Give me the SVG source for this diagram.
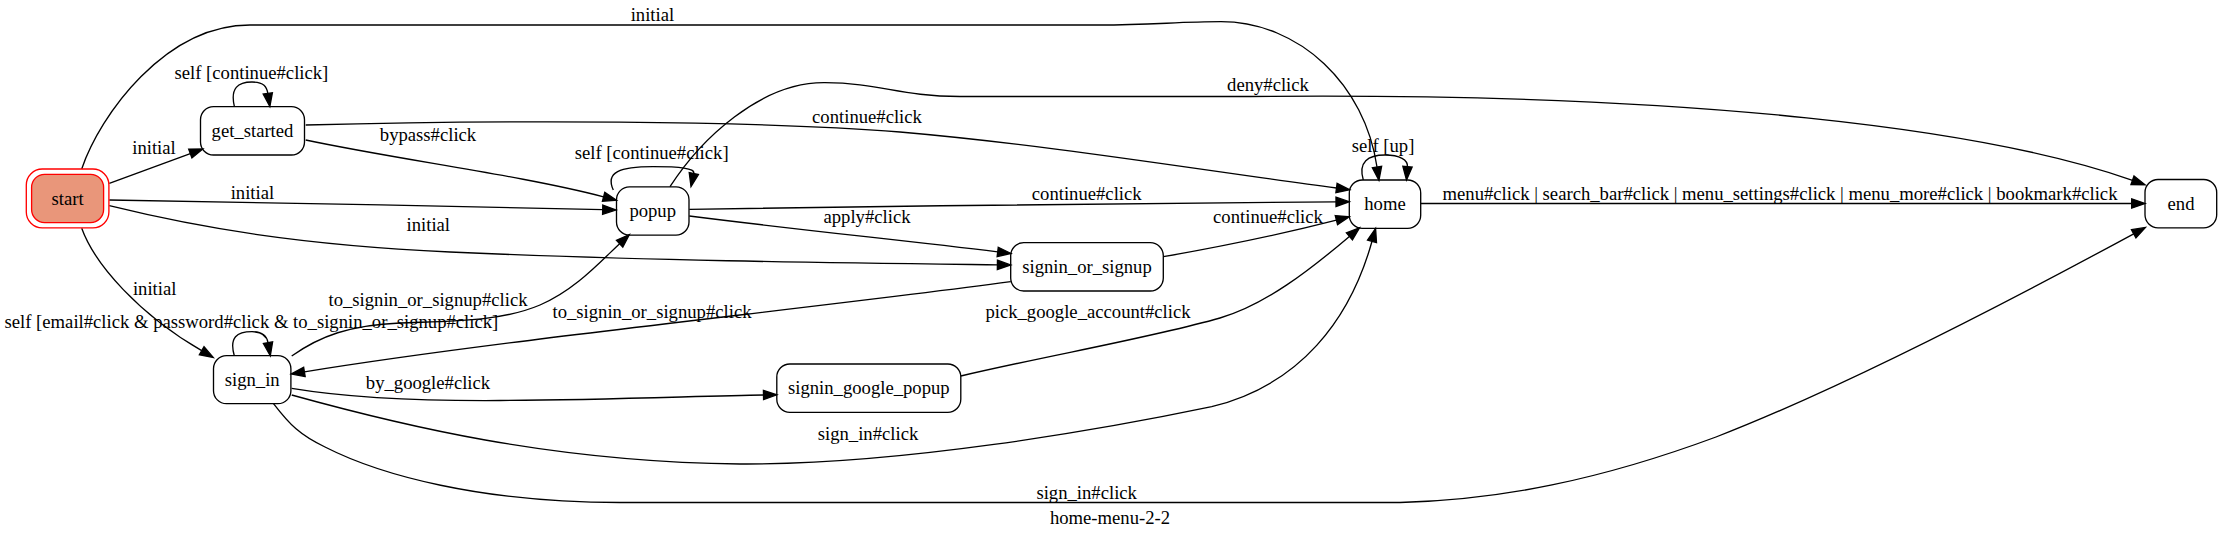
<svg xmlns="http://www.w3.org/2000/svg" width="2222" height="539" viewBox="0 0 2222 539">
<style>
  .bg { fill: #ffffff; }
  .node rect { fill: none; stroke: #000000; stroke-width: 1.33; }
  .node text, .lbl, .title { font-family: "Liberation Serif", "Times New Roman", serif; font-size: 18.67px; fill: #000000; text-anchor: middle; }
  .edges path { fill: none; stroke: #000000; stroke-width: 1.33; marker-end: url(#arrow); }
  #start rect { stroke: #ff0000; }
  #start rect.fillbox { fill: #e9967a; }
</style>
<defs>
  <marker id="arrow" markerUnits="userSpaceOnUse" markerWidth="14" markerHeight="10" refX="0" refY="5" orient="auto" overflow="visible">
    <path d="M0,0.33 L13.33,5 L0,9.67 z" fill="#000000" stroke="#000000" stroke-width="1.33"/>
  </marker>
</defs>
<rect class="bg" x="0" y="0" width="2222" height="539"/>

<g id="edges" class="edges">
  <!-- start -> home initial -->
  <path d="M81.7,169 C 100,115 165,25 250,25 L 1100,25 C 1150,25 1180,21.7 1221,21.7 C 1300,22 1365,85 1377,167"/>
  <!-- start -> get_started -->
  <path d="M109.3,183.3 L190.3,153.6"/>
  <!-- start -> popup -->
  <path d="M109.3,200 C 250,202 450,206 602.7,209.7"/>
  <!-- start -> signin_or_signup -->
  <path d="M109.3,205.7 C 200,228 300,245 450,252 C 650,261 850,263 997.4,264.8"/>
  <!-- start -> sign_in -->
  <path d="M81.7,228.3 C 95,265 140,315 201.7,350.7"/>
  <!-- get_started self -->
  <path d="M234.4,106.7 C 230,88 238,82 252,82 C 264,82 266.8,87 267.8,93.4"/>
  <!-- get_started -> home -->
  <path d="M305.7,125 C 500,120 750,120 900,132 C 1050,145 1200,170 1336.5,188"/>
  <!-- get_started -> popup -->
  <path d="M305.7,140 C 400,160 520,175 603.6,196.8"/>
  <!-- popup self -->
  <path d="M613.3,190 C 605,172 620,166.7 653,166.7 C 680,166.7 695,168 693.8,173.6"/>
  <!-- popup -> end deny -->
  <path d="M670,186.7 C 700,140 760,82 825,82.7 C 880,83 900,96.5 960,96.5 L 1250,96.5 C 1700,92 1990,130 2132.5,180.3"/>
  <!-- popup -> home -->
  <path d="M689.3,209.3 C 900,206 1150,203 1336,201.8"/>
  <!-- popup -> signin_or_signup -->
  <path d="M689.3,216 C 800,230 900,240 997.7,251.9"/>
  <!-- signin_or_signup -> home -->
  <path d="M1163.3,256.7 C 1230,245 1290,232 1336.4,220.1"/>
  <!-- home self -->
  <path d="M1363.3,180 C 1358,162 1368,155 1385,155 C 1400,155 1408,160 1407.5,166.7"/>
  <!-- home -> end -->
  <path d="M1420.7,203.5 L2131.7,203.5"/>
  <!-- signin_or_signup -> sign_in -->
  <path d="M1010.7,281.7 C 800,310 500,340 304.4,371.9"/>
  <!-- sign_in -> popup -->
  <path d="M291.7,356 C 320,336 350,325 400,323 C 450,321 500,322 540,305 C 575,290 600,262 619.6,243.7"/>
  <!-- sign_in self -->
  <path d="M234.3,355.7 C 229,337 237,331.7 252,331.7 C 264,331.7 267,337 268,342.7"/>
  <!-- sign_in -> signin_google_popup -->
  <path d="M291.7,388.3 C 350,398 420,401 500,400.5 C 600,400 700,396 763.5,395"/>
  <!-- signin_google_popup -> home -->
  <path d="M960.8,376 C 1050,355 1150,338 1220,318 C 1265,305 1310,270 1349.4,236.4"/>
  <!-- sign_in -> home -->
  <path d="M291.7,395 C 400,425 550,462 740,464 C 900,465 1100,430 1211.7,406.7 C 1300,385 1350,320 1372,241.3"/>
  <!-- sign_in -> end -->
  <path d="M273.3,403.3 C 290,425 300,435 325,447 C 380,475 480,502.5 620,502.5 L 1400,502.5 C 1500,500 1600,480 1716,437 C 1850,385 2030,290 2133.7,233.8"/>
</g>

<g id="edge-labels">
  <text class="lbl" x="652.4" y="20.5">initial</text>
  <text class="lbl" x="251.4" y="78.8">self [continue#click]</text>
  <text class="lbl" x="154" y="154">initial</text>
  <text class="lbl" x="428" y="140.5">bypass#click</text>
  <text class="lbl" x="651.7" y="159">self [continue#click]</text>
  <text class="lbl" x="252.4" y="199">initial</text>
  <text class="lbl" x="428.3" y="230.5">initial</text>
  <text class="lbl" x="154.7" y="294.5">initial</text>
  <text class="lbl" x="428" y="305.5">to_signin_or_signup#click</text>
  <text class="lbl" x="251.4" y="328">self [email#click &amp; password#click &amp; to_signin_or_signup#click]</text>
  <text class="lbl" x="652" y="318">to_signin_or_signup#click</text>
  <text class="lbl" x="428" y="389">by_google#click</text>
  <text class="lbl" x="1268" y="90.5">deny#click</text>
  <text class="lbl" x="867" y="123">continue#click</text>
  <text class="lbl" x="1383" y="152">self [up]</text>
  <text class="lbl" x="1086.7" y="199.5">continue#click</text>
  <text class="lbl" x="867" y="223">apply#click</text>
  <text class="lbl" x="1268" y="223">continue#click</text>
  <text class="lbl" x="1780" y="199.5">menu#click | search_bar#click | menu_settings#click | menu_more#click | bookmark#click</text>
  <text class="lbl" x="1088" y="318">pick_google_account#click</text>
  <text class="lbl" x="868" y="439.5">sign_in#click</text>
  <text class="lbl" x="1086.7" y="499">sign_in#click</text>
</g>

<g id="start" class="node">
  <rect class="fillbox" x="31.6" y="174.3" width="72" height="48.3" rx="13"/>
  <rect x="26.3" y="169" width="82.6" height="58.9" rx="16"/>
  <text x="67.6" y="205">start</text>
</g>
<g id="get_started" class="node">
  <rect x="200.5" y="106.7" width="104" height="48.3" rx="13"/>
  <text x="252.5" y="137">get_started</text>
</g>
<g id="popup" class="node">
  <rect x="616.5" y="186.8" width="72.5" height="48.3" rx="13"/>
  <text x="652.7" y="217">popup</text>
</g>
<g id="signin_or_signup" class="node">
  <rect x="1010.7" y="242.7" width="152.6" height="48.3" rx="13"/>
  <text x="1087" y="273">signin_or_signup</text>
</g>
<g id="home" class="node">
  <rect x="1349.3" y="180" width="71.4" height="48.3" rx="13"/>
  <text x="1385" y="210">home</text>
</g>
<g id="end" class="node">
  <rect x="2145" y="179.5" width="71.7" height="48.3" rx="13"/>
  <text x="2181" y="209.8">end</text>
</g>
<g id="sign_in" class="node">
  <rect x="213.5" y="355.7" width="77.4" height="48" rx="13"/>
  <text x="252.2" y="386">sign_in</text>
</g>
<g id="signin_google_popup" class="node">
  <rect x="776.8" y="364" width="184" height="48.3" rx="13"/>
  <text x="868.8" y="394">signin_google_popup</text>
</g>

<text class="title" x="1110" y="524">home-menu-2-2</text>
</svg>
